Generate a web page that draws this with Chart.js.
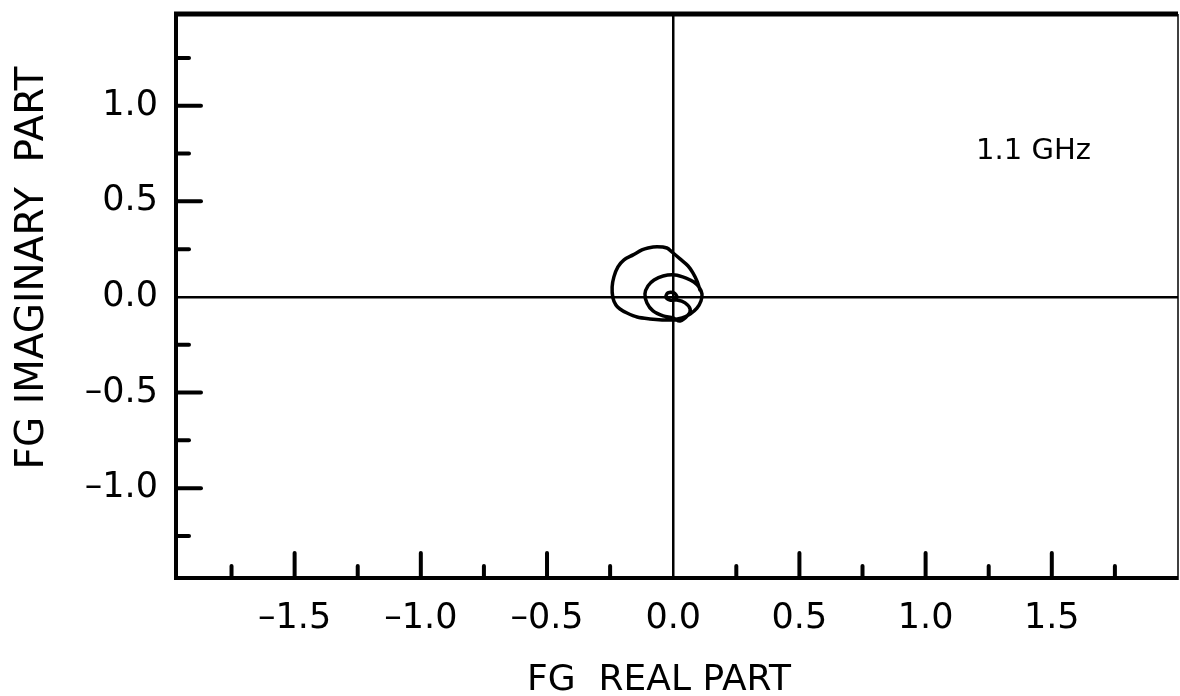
<!DOCTYPE html>
<html>
<head>
<meta charset="utf-8">
<script src="https://cdn.jsdelivr.net/npm/chart.js@4.4.1/dist/chart.umd.min.js"></script>
<style>
  html, body { margin: 0; padding: 0; background: #fff; }
  #wrap { width: 1180px; height: 696px; }
</style>
</head>
<body>
<div id="wrap"><canvas id="fg"></canvas></div>
<script>
// FG locus at 1.1 GHz, spiralling in toward the origin
const reParts = [
  0.106, 0.094, 0.078, 0.059, 0.027, -0.005, -0.025, -0.064, -0.100, -0.124,
  -0.159, -0.195, -0.219, -0.235, -0.242, -0.239, -0.227, -0.211, -0.183, -0.143,
  -0.092, -0.044, -0.005, 0.035, 0.067, 0.094, 0.110, 0.114, 0.102, 0.082,
  0.051, 0.007, -0.040, -0.076, -0.100, -0.112, -0.104, -0.080, -0.040, -0.001,
  0.027, 0.059, 0.067, 0.047, 0.015, -0.013, -0.029, -0.021, 0.003, 0.015, -0.001
];
const imParts = [
  0.037, 0.084, 0.126, 0.162, 0.199, 0.235, 0.256, 0.262, 0.256, 0.246,
  0.220, 0.194, 0.157, 0.105, 0.052, -0.005, -0.042, -0.063, -0.084, -0.105,
  -0.115, -0.120, -0.120, -0.110, -0.089, -0.058, -0.021, 0.016, 0.052, 0.078,
  0.099, 0.115, 0.110, 0.089, 0.058, 0.016, -0.031, -0.073, -0.099, -0.110,
  -0.126, -0.094, -0.063, -0.031, -0.016, -0.016, 0.000, 0.021, 0.021, 0.000, -0.016
];

const xMajor = [-1.5, -1.0, -0.5, 0.0, 0.5, 1.0, 1.5];
const xLabels = ['\u20131.5', '\u20131.0', '\u20130.5', '0.0', '0.5', '1.0', '1.5'];
const yMajor = [-1.0, -0.5, 0.0, 0.5, 1.0];
const yLabels = ['\u20131.0', '\u20130.5', '0.0', '0.5', '1.0'];

const near = (a, b) => Math.abs(a - b) < 1e-6;
const isHalf = v => near(v * 2, Math.round(v * 2));
const labelFor = (majors, labels) => v => {
  const i = majors.findIndex(m => near(m, v));
  return i < 0 ? '' : labels[i];
};

const FONT = '"DejaVu Sans", "Liberation Sans", sans-serif';

// box, inward tick marks, axis titles and the frequency note
const frame = {
  id: 'frame',
  afterDatasetsDraw(chart) {
    const { ctx, chartArea: a, scales: { x, y } } = chart;
    ctx.save();
    ctx.strokeStyle = '#000';
    ctx.fillStyle = '#000';

    ctx.lineCap = 'round';
    ctx.lineWidth = 4;
    x.ticks.forEach(t => {
      const px = x.getPixelForValue(t.value);
      if (near(t.value, 0) || px < a.left + 5 || px > a.right - 5) return;
      const len = isHalf(t.value) ? 25 : 12;
      ctx.beginPath();
      ctx.moveTo(px, a.bottom);
      ctx.lineTo(px, a.bottom - len);
      ctx.stroke();
    });
    y.ticks.forEach(t => {
      const py = y.getPixelForValue(t.value);
      if (near(t.value, 0) || py < a.top + 5 || py > a.bottom - 5) return;
      const len = isHalf(t.value) ? 25 : 13;
      ctx.beginPath();
      ctx.moveTo(a.left, py);
      ctx.lineTo(a.left + len, py);
      ctx.stroke();
    });

    ctx.lineCap = 'butt';
    ctx.lineWidth = 4;
    ctx.beginPath();
    ctx.moveTo(a.left, a.top);
    ctx.lineTo(a.left, a.bottom);
    ctx.lineTo(a.right, a.bottom);
    ctx.stroke();
    ctx.lineWidth = 5;
    ctx.beginPath();
    ctx.moveTo(a.left - 2, a.top);
    ctx.lineTo(a.right, a.top);
    ctx.stroke();
    ctx.lineWidth = 1.5;
    ctx.beginPath();
    ctx.moveTo(a.right, a.top);
    ctx.lineTo(a.right, a.bottom + 2);
    ctx.stroke();

    ctx.font = '29px ' + FONT;
    ctx.textAlign = 'left';
    ctx.textBaseline = 'alphabetic';
    ctx.fillText('1.1 GHz', x.getPixelForValue(1.2), y.getPixelForValue(0.72));

    ctx.font = '36px ' + FONT;
    ctx.textAlign = 'center';
    ctx.fillText('FG  REAL PART', 659, 690);

    ctx.translate(43, 268);
    ctx.rotate(-Math.PI / 2);
    ctx.font = '39px ' + FONT;
    ctx.fillText('FG IMAGINARY  PART', 0, 0);
    ctx.restore();
  }
};

const zeroLine = c => near(c.tick.value, 0) ? '#000' : 'rgba(0,0,0,0)';

// fixed axis sizes, no extra room for edge labels
const fitTo = (w, h) => s => {
  if (w != null) s.width = w;
  if (h != null) s.height = h;
  s.paddingTop = s.paddingBottom = s.paddingLeft = s.paddingRight = 0;
};

new Chart(document.getElementById('fg'), {
  type: 'scatter',
  data: {
    datasets: [{
      data: reParts.map((re, i) => ({ x: re, y: imParts[i] })),
      showLine: true,
      fill: false,
      pointRadius: 0,
      borderColor: '#000',
      borderWidth: 3.5,
      borderJoinStyle: 'round',
      borderCapStyle: 'round',
      tension: 0.3
    }]
  },
  options: {
    responsive: true,
    maintainAspectRatio: false,
    animation: false,
    devicePixelRatio: 1,
    layout: { padding: { top: 14, right: 2, left: 0, bottom: 0 } },
    plugins: { legend: { display: false }, tooltip: { enabled: false } },
    scales: {
      x: {
        type: 'linear',
        min: -1.97,
        max: 2.0,
        afterFit: fitTo(null, 118),
        border: { display: false },
        grid: { drawTicks: false, color: zeroLine, lineWidth: 2.5 },
        ticks: {
          stepSize: 0.25,
          includeBounds: false,
          autoSkip: false,
          maxRotation: 0,
          padding: 20,
          color: '#000',
          font: { family: FONT, size: 35 },
          callback: labelFor(xMajor, xLabels)
        }
      },
      y: {
        type: 'linear',
        min: -1.47,
        max: 1.48,
        afterFit: fitTo(176, null),
        border: { display: false },
        grid: { drawTicks: false, color: zeroLine, lineWidth: 2.5 },
        ticks: {
          stepSize: 0.25,
          includeBounds: false,
          autoSkip: false,
          padding: 18,
          color: '#000',
          font: { family: FONT, size: 35 },
          callback: labelFor(yMajor, yLabels)
        }
      }
    }
  },
  plugins: [frame]
});
</script>
</body>
</html>
